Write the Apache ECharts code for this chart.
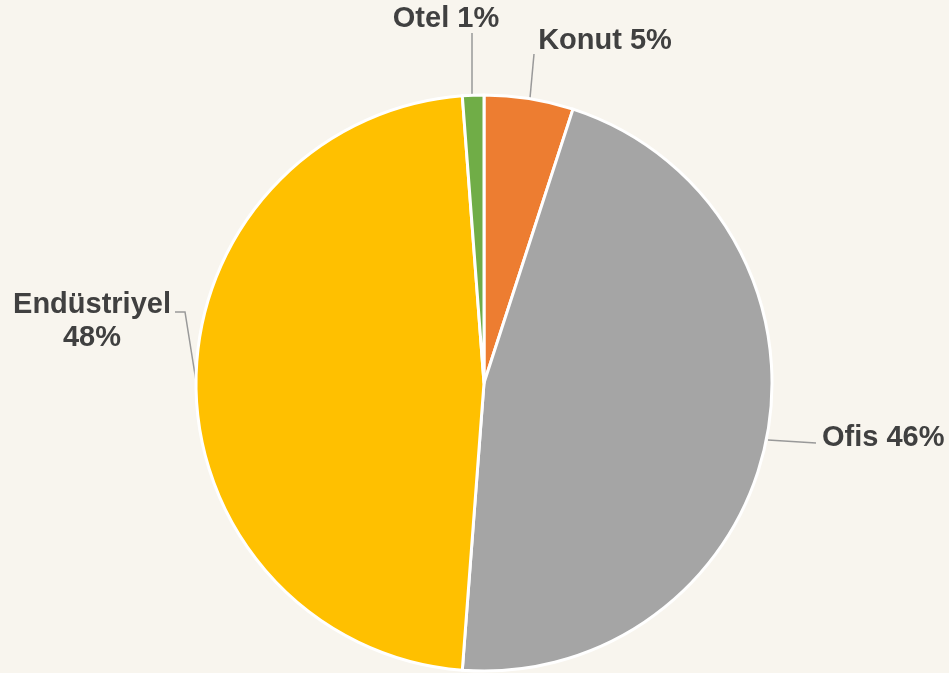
<!DOCTYPE html>
<html>
<head>
<meta charset="utf-8">
<script src="https://cdn.jsdelivr.net/npm/echarts@6/dist/echarts.min.js"></script>
<style>
  html, body { margin: 0; padding: 0; background: #f8f5ee; }
</style>
</head>
<body>
<div id="main" style="width: 949px; height: 673px;"></div>
<script>
// 数据
var categories = ['Konut', 'Ofis', 'Endüstriyel', 'Otel']
var shares = [5.0, 46.2, 47.6, 1.2]
var colors = ['#ED7D31', '#A5A5A5', '#FFC000', '#70AD47']

// 标签位置 (像素)
var labelPos = [
  { x: 605, y: 41, align: 'center', line: [[530, 98], [534, 54]] },
  { x: 822, y: 438, align: 'left', line: [[768, 440], [816, 443]] },
  { x: 92, y: 321, align: 'center', line: [[196, 381], [185, 312], [175, 312]] },
  { x: 446, y: 19, align: 'center', line: [[472, 95], [472, 33]] }
]

var myChart = echarts.init(document.getElementById('main'))
myChart.setOption({
  backgroundColor: '#f8f5ee',
  animation: false,
  series: [
    {
      type: 'pie',
      center: [484, 383],
      radius: 288,
      startAngle: 90,
      clockwise: true,
      percentPrecision: 0,
      avoidLabelOverlap: false,
      itemStyle: {
        borderColor: '#ffffff',
        borderWidth: 3
      },
      label: {
        show: true,
        position: 'outside',
        color: '#404040',
        fontFamily: 'Liberation Sans, Arial, sans-serif',
        fontWeight: 'bold',
        fontSize: 29,
        lineHeight: 33,
        formatter: function (p) {
          return p.name + (p.name === 'Endüstriyel' ? '\n' : ' ') + p.percent + '%'
        }
      },
      labelLine: {
        show: true,
        lineStyle: { color: '#999999', width: 1.5 }
      },
      labelLayout: function (params) {
        var pos = labelPos[params.dataIndex]
        return {
          x: pos.x,
          y: pos.y,
          align: pos.align,
          verticalAlign: 'middle',
          labelLinePoints: pos.line
        }
      },
      data: categories.map(function (name, i) {
        return { name: name, value: shares[i], itemStyle: { color: colors[i] } }
      })
    }
  ]
})
</script>
</body>
</html>
